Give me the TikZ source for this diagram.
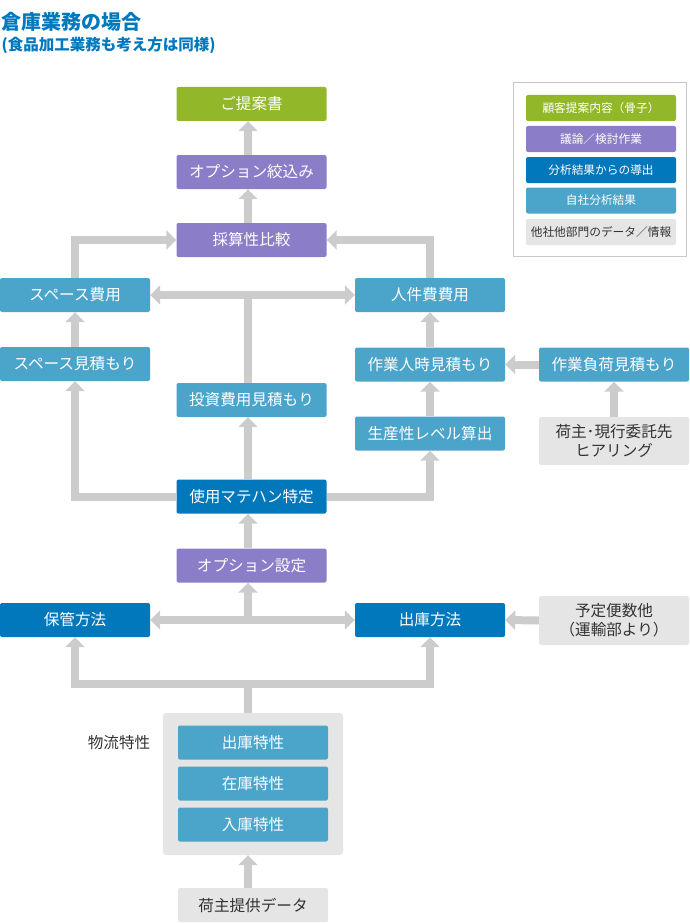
\documentclass[tikz,border=0pt]{standalone}
\usepackage{fontspec}
\setmainfont{Noto Sans CJK JP}
\usetikzlibrary{arrows.meta}
\definecolor{proposalgreen}{RGB}{146,184,42}
\definecolor{workpurple}{RGB}{139,125,200}
\definecolor{derivedblue}{RGB}{0,120,187}
\definecolor{ownblue}{RGB}{75,165,203}
\definecolor{otherfill}{RGB}{229,229,229}
\definecolor{othertext}{RGB}{51,51,51}
\definecolor{arrowgray}{RGB}{204,204,204}
\definecolor{legendframe}{RGB}{200,200,200}
\definecolor{titleblue}{RGB}{0,120,190}

\begin{document}
\begin{tikzpicture}[
	x=1pt, y=-1pt,
	box/.style={rectangle, rounded corners=2pt, inner sep=0pt,
		minimum width=150pt, minimum height=34pt, text=white,
		align=center, font=\fontsize{15.6}{19}\selectfont},
	proposal/.style={box, fill=proposalgreen},
	work/.style={box, fill=workpurple},
	derived/.style={box, fill=derivedblue},
	own/.style={box, fill=ownblue},
	other/.style={box, fill=otherfill, text=othertext},
	legend/.style={minimum height=26pt, font=\fontsize{11.7}{14}\selectfont},
	flowline/.style={draw=arrowgray, line width=8pt},
	flow/.style={flowline, -{Triangle[width=19pt,length=10pt]}},
	bothflow/.style={flowline,
		{Triangle[width=19pt,length=10pt]}-{Triangle[width=19pt,length=10pt]}},
]
\useasboundingbox (0,0) rectangle (689,923);
% Input 1: style, 2: name, 3: y, 4: text.
\def\legendentry#1(#2)#3#4{
	\node[#1, legend] (#2) at (601,#3) {#4};
}
	% Title.
	\node[anchor=base west, inner sep=0pt, text=titleblue,
		font=\fontsize{20}{24}\selectfont\bfseries] (title) at (1.5,30) {倉庫業務の場合};
	\node[anchor=base west, inner sep=0pt, text=titleblue,
		font=\fontsize{15.5}{18}\selectfont\bfseries] (subtitle) at (1.5,51)
		{(食品加工業務も考え方は同様)};

	% Legend.
	\node[draw=legendframe, line width=1pt, fill=white, inner sep=0pt,
		minimum width=173pt, minimum height=173pt] (legend) at (599.5,169.5) {};
	\legendentry{proposal}(legA){108}{顧客提案内容（骨子）}
	\legendentry{work}(legB){139}{議論／検討作業}
	\legendentry{derived}(legC){170}{分析結果からの導出}
	\legendentry{own}(legD){200.5}{自社分析結果}
	\legendentry{other}(legE){232}{他社他部門のデータ／情報}

	% Main column.
	\coordinate (spine) at (248,0);
	\node[proposal] (proposal) at (251.5,104) {ご提案書};
	\node[work] (narrow) at (251.5,172) {オプション絞込み};
	\node[work] (compare) at (251.5,240) {採算性比較};
	\node[own] (investest) at (251.5,400) {投資費用見積もり};
	\node[derived] (handling) at (251.5,496.5) {使用マテハン特定};
	\node[work] (optionset) at (251.5,565.5) {オプション設定};

	\node[own] (spacecost) at (75,295) {スペース費用};
	\node[own] (spaceest) at (75,364) {スペース見積もり};
	\node[derived] (storage) at (75,620) {保管方法};

	\node[own] (laborcost) at (430,295) {人件費費用};
	\node[own] (hoursest) at (430,364.5) {作業人時見積もり};
	\node[own] (productivity) at (430,433.5) {生産性レベル算出};
	\node[derived] (shipping) at (430,620) {出庫方法};

	\node[own] (loadest) at (614,364.5) {作業負荷見積もり};
	\node[other, minimum height=48pt] (hearing) at (614,441)
		{荷主･現行委託先\\ヒアリング};
	\node[other, minimum height=49pt] (schedule) at (614,620.5)
		{予定便数他\\（運輸部より）};

	% Logistics properties.
	\node[fill=otherfill, rounded corners=3pt, inner sep=0pt,
		minimum width=180pt, minimum height=142pt] (props) at (253,784) {};
	\node[text=othertext, font=\fontsize{15.6}{19}\selectfont] (propslabel)
		at (119,743) {物流特性};
	\node[own] (outprop) at (253,742.5) {出庫特性};
	\node[own] (stockprop) at (253,783.5) {在庫特性};
	\node[own] (inprop) at (253,824.5) {入庫特性};
	\node[other] (sourcedata) at (253,905) {荷主提供データ};

	% Connectors.
	\draw[flow] (narrow.north -| spine) -- (proposal.south -| spine);
	\draw[flow] (compare.north -| spine) -- (narrow.south -| spine);
	\draw[flow] (spacecost.north) |- (compare.west);
	\draw[flow] (laborcost.north) |- (compare.east);
	\draw[bothflow] (spacecost.east) -- (laborcost.west);
	\draw[flowline] (investest.north -| spine) -- (spacecost.east -| spine);
	\draw[flow] (spaceest.north) -- (spacecost.south);
	\draw[flow] (hoursest.north) -- (laborcost.south);
	\draw[flow] (loadest.west) -- (hoursest.east);
	\draw[flow] (hearing.north) -- (loadest.south);
	\draw[flow] (productivity.north) -- (hoursest.south);
	\draw[flow] (handling.north -| spine) -- (investest.south -| spine);
	\draw[flow] (handling.west) -| (spaceest.south);
	\draw[flow] (handling.east) -| (productivity.south);
	\draw[flow] (optionset.north -| spine) -- (handling.south -| spine);
	\draw[bothflow] (storage.east) -- (shipping.west);
	\draw[flow] (storage.east -| spine) -- (optionset.south -| spine);
	\draw[flow] (schedule.west) -- (shipping.east);
	\draw[flowline] (props.north -| spine) -- ++(0,-29) coordinate (split);
	\draw[flow] (split) -| (storage.south);
	\draw[flow] (split) -| (shipping.south);
	\draw[flow] (sourcedata.north -| spine) -- (props.south -| spine);
\end{tikzpicture}
\end{document}
